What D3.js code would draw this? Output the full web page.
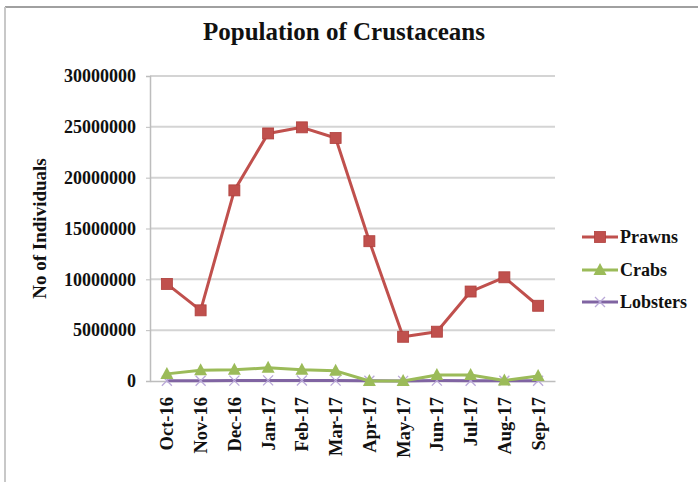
<!DOCTYPE html>
<html>
<head>
<meta charset="utf-8">
<script src="https://cdn.jsdelivr.net/npm/d3@7"></script>
<style>
  html, body { margin: 0; padding: 0; background: #fff; }
  svg { display: block; }
  text { font-family: "Liberation Serif", "Times New Roman", serif; font-weight: bold; fill: #111; }
</style>
</head>
<body>
<svg id="chart" width="698" height="482"></svg>
<script>
const months = ["Oct-16","Nov-16","Dec-16","Jan-17","Feb-17","Mar-17","Apr-17","May-17","Jun-17","Jul-17","Aug-17","Sep-17"];
const prawns   = [9550000, 6950000, 18750000, 24350000, 24950000, 23900000, 13750000, 4350000, 4850000, 8800000, 10200000, 7400000];
const crabs    = [700000, 1050000, 1100000, 1300000, 1100000, 1000000, 0, 0, 600000, 600000, 50000, 500000];
const lobsters = [20000, 30000, 40000, 60000, 50000, 40000, 20000, 10000, 40000, 30000, 20000, 30000];
const yTicks   = [0, 5000000, 10000000, 15000000, 20000000, 25000000, 30000000];
const seriesNames = ["Prawns", "Crabs", "Lobsters"];

const series = [
  { name: seriesNames[0], values: prawns,   color: "#C0504D", marker: "square" },
  { name: seriesNames[1], values: crabs,    color: "#9BBB59", marker: "triangle" },
  { name: seriesNames[2], values: lobsters, color: "#8064A2", marker: "x" }
];

const svg = d3.select("#chart");
const plot = { left: 150, right: 555, top: 76, bottom: 381 };

// outer frame (top and left edges)
svg.append("line").attr("x1", 5).attr("x2", 698).attr("y1", 7).attr("y2", 7)
  .attr("stroke", "#a0a0a0").attr("stroke-width", 2);
svg.append("line").attr("x1", 5).attr("x2", 5).attr("y1", 7).attr("y2", 482)
  .attr("stroke", "#c8c8c8").attr("stroke-width", 2);

const x = d3.scaleBand().domain(months).range([plot.left, plot.right]);
const y = d3.scaleLinear().domain([0, 30000000]).range([plot.bottom, plot.top]);

// gridlines
svg.append("g").selectAll("line").data(yTicks.filter(d => d > 0)).join("line")
  .attr("x1", plot.left).attr("x2", plot.right)
  .attr("y1", d => y(d)).attr("y2", d => y(d))
  .attr("stroke", "#d4d4d4").attr("stroke-width", 2);

// y axis
const yAxis = svg.append("g").attr("transform", `translate(${plot.left},0)`)
  .call(d3.axisLeft(y).tickValues(yTicks).tickFormat(d3.format("d")).tickSize(4).tickPadding(10));
yAxis.select(".domain").attr("stroke", "#bdbdbd").attr("stroke-width", 1.5);
yAxis.selectAll(".tick line").attr("stroke", "#bdbdbd");
yAxis.selectAll("text").style("font-size", "18px").style("font-family", "Liberation Serif").style("font-weight", "bold").attr("fill", "#111");

// x axis
const xAxis = svg.append("g").attr("transform", `translate(0,${plot.bottom})`)
  .call(d3.axisBottom(x).tickSize(0).tickPadding(0));
xAxis.select(".domain").attr("stroke", "#bdbdbd").attr("stroke-width", 1.5);
xAxis.selectAll("text")
  .style("font-size", "18.5px").style("font-family", "Liberation Serif").style("font-weight", "bold").attr("fill", "#111")
  .attr("transform", "rotate(-90)")
  .attr("text-anchor", "end")
  .attr("x", -16).attr("y", 0).attr("dy", "0.35em");

// y title
svg.append("text")
  .attr("transform", `translate(39,${(plot.top + plot.bottom) / 2}) rotate(-90)`)
  .attr("text-anchor", "middle").attr("dy", "0.35em")
  .style("font-size", "19px")
  .text("No of Individuals");

// title
svg.append("text").attr("x", 344).attr("y", 40).attr("text-anchor", "middle")
  .style("font-size", "25px").text("Population of Crustaceans");

const cx = d => x(d) + x.bandwidth() / 2;
const line = d3.line().x((d, i) => cx(months[i])).y(d => y(d));

function drawMarker(g, type, color) {
  if (type === "square") {
    g.append("rect").attr("x", -5.5).attr("y", -5.5).attr("width", 11).attr("height", 11)
      .attr("fill", color).attr("stroke", "#b0403d").attr("stroke-width", 0.8);
  } else if (type === "triangle") {
    g.append("path").attr("d", "M0,-7 L6.5,5 L-6.5,5 Z").attr("fill", color);
  } else {
    g.append("path").attr("d", "M-5,-5 L5,5 M-5,5 L5,-5").attr("stroke", "#b9a8d8").attr("stroke-width", 1.3).attr("fill", "none");
  }
}

// draw series (lobsters first so prawns sit on top)
series.slice().reverse().forEach(s => {
  const g = svg.append("g");
  g.append("path").datum(s.values).attr("d", line)
    .attr("fill", "none").attr("stroke", s.color).attr("stroke-width", 3).attr("stroke-linejoin", "round");
  s.values.forEach((v, i) => {
    const mg = g.append("g").attr("transform", `translate(${cx(months[i])},${y(v)})`);
    drawMarker(mg, s.marker, s.color);
  });
});

// legend
const legendY = [237, 270, 302];
series.forEach((s, i) => {
  const g = svg.append("g").attr("transform", `translate(582,${legendY[i]})`);
  g.append("line").attr("x1", 0).attr("x2", 36).attr("y1", 0).attr("y2", 0)
    .attr("stroke", s.color).attr("stroke-width", 3);
  const mg = g.append("g").attr("transform", "translate(18,0)");
  drawMarker(mg, s.marker, s.color);
  g.append("text").attr("x", 38).attr("y", 0).attr("dy", "0.35em")
    .style("font-size", "18px").text(s.name);
});
</script>
</body>
</html>
